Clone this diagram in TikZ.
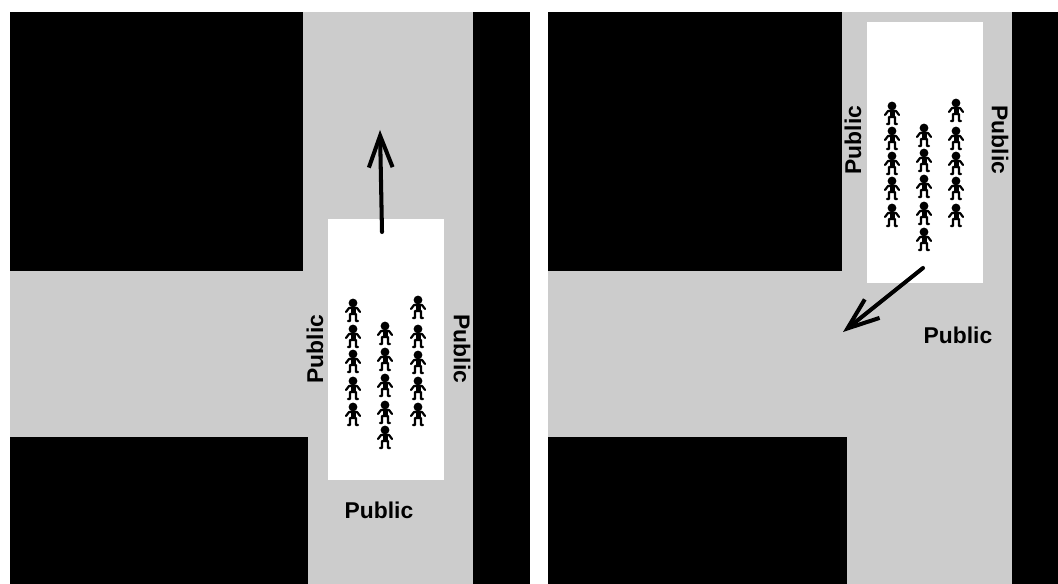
\documentclass[tikz,border=0pt]{standalone}
\usepackage{fontspec}
\setmainfont{Liberation Sans}
\usetikzlibrary{arrows.meta,positioning}
\definecolor{roadgrey}{RGB}{204,204,204}

\begin{document}
\begin{tikzpicture}[
  x=0.02cm,y=-0.02cm,
  every node/.style={font=\fontsize{13pt}{15pt}\selectfont\bfseries,inner sep=0pt},
  road/.style={fill=roadgrey},
  block/.style={fill=black},
  crowdarea/.style={fill=white},
  movearrow/.style={line width=2.3pt,line cap=round,-{Straight Barb[length=18pt,width=13.5pt,line width=2.3pt]}},
  person/.pic={
    \fill (0,-7) circle (4.4);
    \fill (-2.5,-3) rectangle (2.5,5);
    \draw[line width=1.25pt,line cap=round,line join=round]
      (-7,2) -- (-4,-2) -- (4,-2) -- (7,2)
      (-5,11) -- (-3,11) -- (-3,4) -- (3,4) -- (3,11) -- (5,11);
  },
]
  \useasboundingbox (0,0) rectangle (1058,584);
  % Left street
  \fill[road] (10,12) rectangle (530,584);
  \fill[block] (10,12) rectangle (303,271);
  \fill[block] (10,437) rectangle (308,584);
  \fill[block] (473,12) rectangle (530,584);
  \fill[crowdarea] (328,219) rectangle (444,480);
  \foreach \y in {310,336,361,388,414} \pic at (353,\y) {person};
  \foreach \y in {333,359,385,412,437} \pic at (385,\y) {person};
  \foreach \y in {307,336,362,388,414} \pic at (418,\y) {person};
  \coordinate (leftstart) at (382,232);
  \coordinate (lefttip) at (380,130);
  \draw[movearrow] (leftstart) -- (lefttip);
  \node[rotate=90] (leftpublica) at (315,349) {Public};
  \node[rotate=-90] (leftpublicb) at (462,349) {Public};
  \node (leftpublicc) at (379,510) {Public};
  % Right street
  \fill[road] (548,12) rectangle (1058,584);
  \fill[block] (548,12) rectangle (842,271);
  \fill[block] (548,437) rectangle (847,584);
  \fill[block] (1012,12) rectangle (1058,584);
  \fill[crowdarea] (867,22) rectangle (983,283);
  \foreach \y in {113,138,163,188,215} \pic at (892,\y) {person};
  \foreach \y in {135,160,186,213,239} \pic at (924,\y) {person};
  \foreach \y in {110,138,163,188,215} \pic at (956,\y) {person};
  \coordinate (rightstart) at (923,268);
  \coordinate (righttip) at (843,332);
  \draw[movearrow] (rightstart) -- (righttip);
  \node[rotate=90] (rightpublica) at (853,140) {Public};
  \node[rotate=-90] (rightpublicb) at (1000,140) {Public};
  \node (rightpublicc) at (958,335) {Public};
\end{tikzpicture}
\end{document}
